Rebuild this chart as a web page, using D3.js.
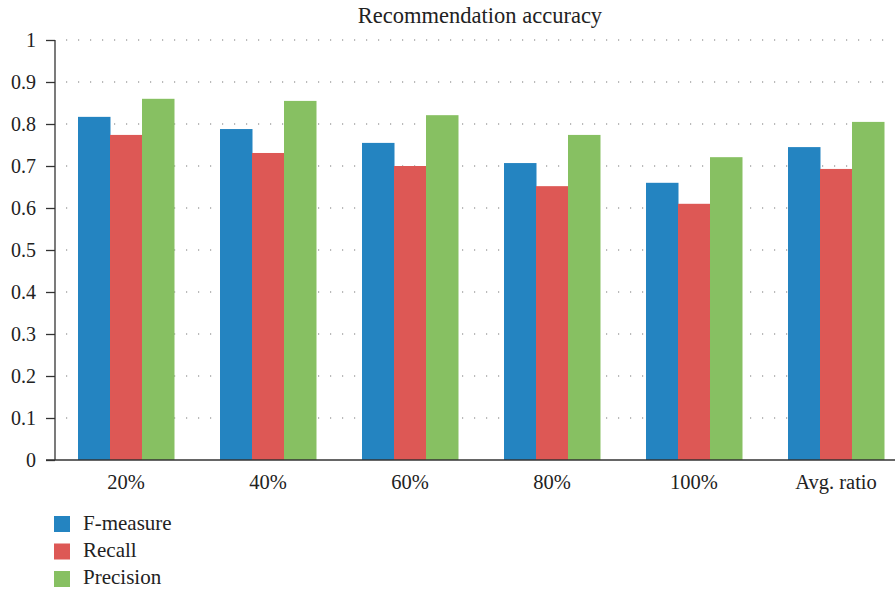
<!DOCTYPE html>
<html><head><meta charset="utf-8">
<script src="https://cdn.jsdelivr.net/npm/d3@7"></script>
<style>body{margin:0;background:#fff}svg{display:block}</style>
</head><body>
<svg id="c" width="895" height="593"></svg>
<script>
const categories = ["20%","40%","60%","80%","100%","Avg. ratio"];
const seriesNames = ["F-measure","Recall","Precision"];
const fmeasure = [0.817,0.788,0.755,0.707,0.660,0.745];
const recall = [0.774,0.731,0.700,0.652,0.610,0.693];
const precision = [0.860,0.855,0.821,0.774,0.721,0.805];
const colors = ["#2484c1","#dd5855","#87c062"];
const yTicks = [0,0.1,0.2,0.3,0.4,0.5,0.6,0.7,0.8,0.9,1];
const yTickLabels = ["0","0.1","0.2","0.3","0.4","0.5","0.6","0.7","0.8","0.9","1"];
const title = "Recommendation accuracy";

const FONT = "'Times New Roman', 'Liberation Serif', serif";
const seriesValues = [fmeasure, recall, precision];
const svg = d3.select("#c");
const y = d3.scaleLinear().domain([0,1]).range([460,40]);
const x0 = d3.scaleBand().domain(categories).range([55,907]);
const x1 = d3.scaleBand().domain(seriesNames).range([23,119]);

// grid
svg.append("g").selectAll("line").data(yTicks.filter(d=>d>0)).join("line")
  .attr("x1",66).attr("x2",893).attr("y1",d=>y(d)).attr("y2",d=>y(d))
  .attr("stroke","#777").attr("stroke-width",1.2).attr("stroke-dasharray","1.2,10.8");

// bars
const g = svg.append("g");
categories.forEach((c,i)=>{
  seriesNames.forEach((s,j)=>{
    g.append("rect").attr("x",x0(c)+x1(s)).attr("width",x1.bandwidth()+0.5)
      .attr("y",y(seriesValues[j][i])).attr("height",y(0)-y(seriesValues[j][i]))
      .attr("fill",colors[j]);
  });
});

// y axis
const ya = svg.append("g").attr("transform","translate(55,0)")
  .call(d3.axisLeft(y).tickValues(yTicks).tickFormat((d,i)=>yTickLabels[i]).tickSize(9).tickPadding(10));
ya.attr("font-family",FONT);
ya.select(".domain").remove();
ya.selectAll(".tick line").attr("stroke","#333").attr("stroke-width",1.3);
ya.selectAll("text").style("font-family",FONT).style("font-size","20px").attr("fill","#222");
svg.append("line").attr("x1",55).attr("x2",55).attr("y1",y(1)).attr("y2",y(0)).attr("stroke","#333").attr("stroke-width",1.3);

// x axis
const xa = svg.append("g").attr("transform","translate(0,460)")
  .call(d3.axisBottom(x0).tickSize(0).tickPadding(13));
xa.attr("font-family",FONT);
xa.select(".domain").remove();
xa.selectAll("text").style("font-family",FONT).style("font-size","20.5px").attr("fill","#222")
  .attr("y",29).attr("dy",0);
svg.append("line").attr("x1",46).attr("x2",895).attr("y1",460).attr("y2",460).attr("stroke","#333").attr("stroke-width",1.3);

// title
svg.append("text").attr("x",480).attr("y",22.5).attr("text-anchor","middle")
  .style("font-family",FONT).style("font-size","22.5px").attr("fill","#222").text(title);

// legend
const lg = svg.append("g");
seriesNames.forEach((s,j)=>{
  lg.append("rect").attr("x",54).attr("y",516+j*27.5).attr("width",16).attr("height",16).attr("fill",colors[j]);
  lg.append("text").attr("x",83).attr("y",529.5+j*27.3).style("font-family",FONT).style("font-size","21px").attr("fill","#222").text(s);
});
</script>
</body></html>
